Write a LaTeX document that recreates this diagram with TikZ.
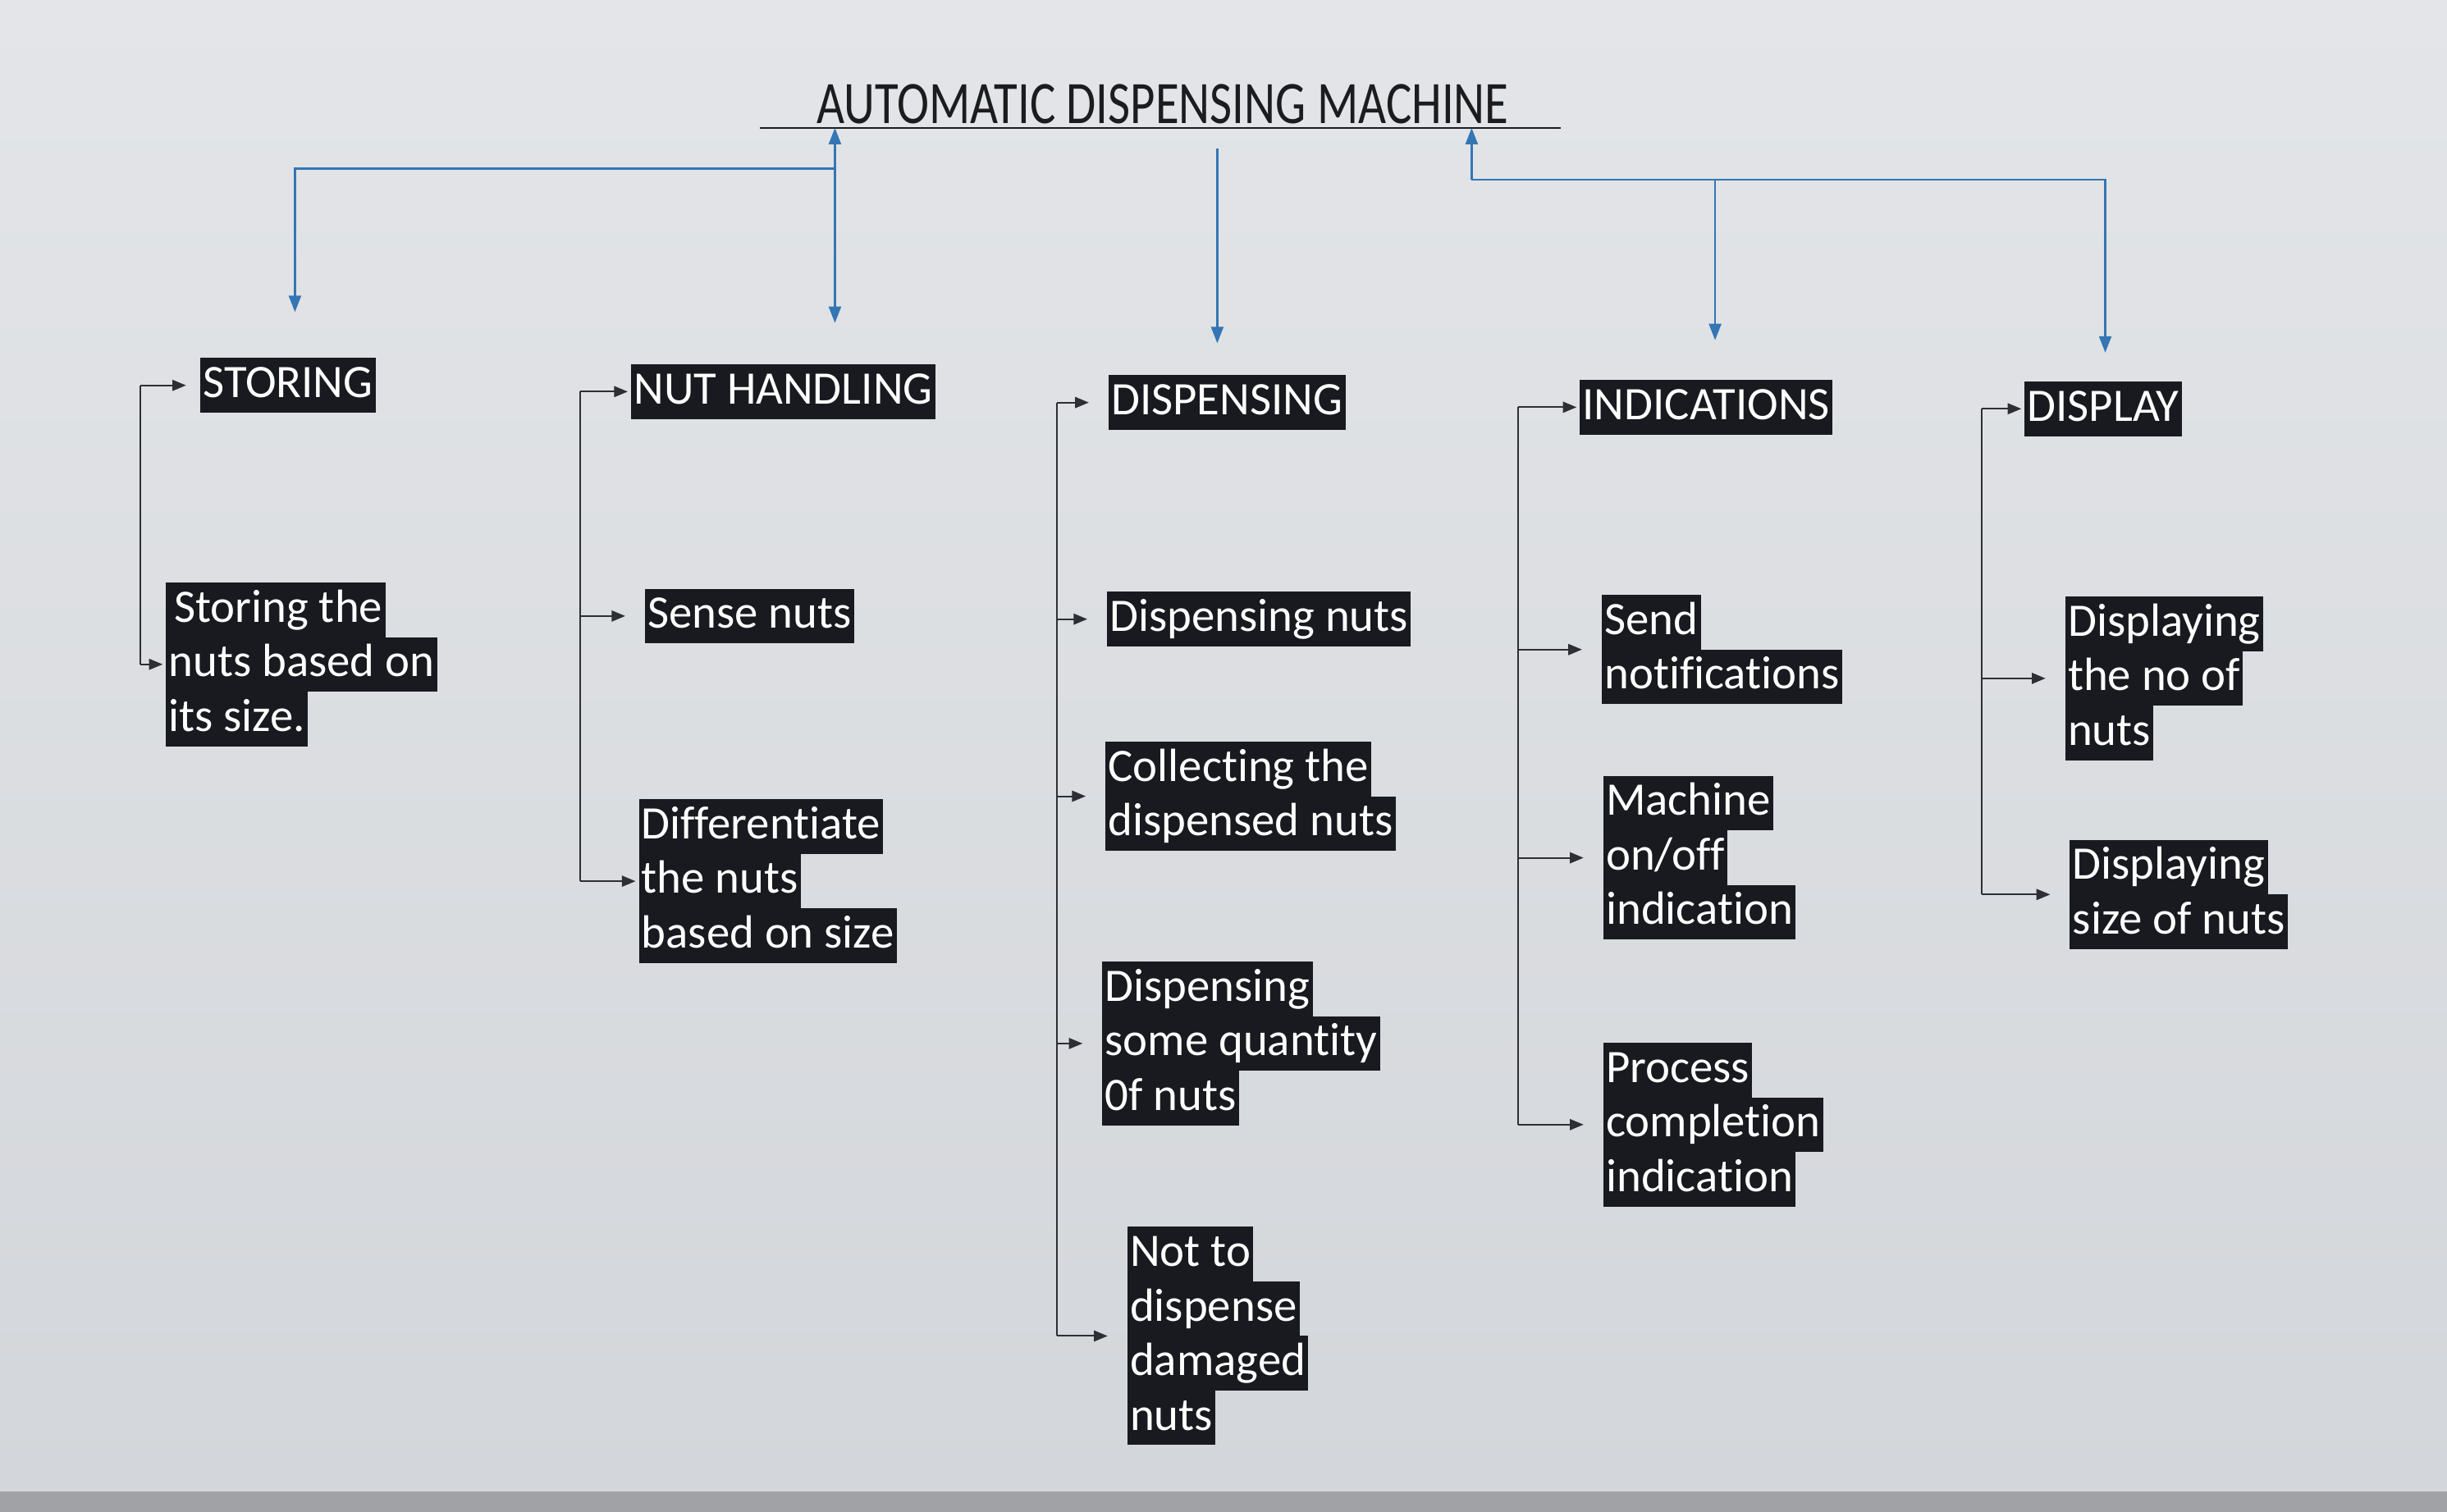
\documentclass[tikz,border=0pt]{standalone}
\usepackage{fontspec}
\usetikzlibrary{arrows.meta}
\newfontfamily\boxfont[Ligatures=NoCommon]{Carlito}
\newfontfamily\titlefont[FakeStretch=0.8]{Carlito}
\definecolor{bgTop}{RGB}{227,229,232}
\definecolor{bgBottom}{RGB}{211,214,218}
\definecolor{screenEdge}{RGB}{160,162,166}
\definecolor{boxBlack}{RGB}{24,26,31}
\definecolor{titleBlack}{RGB}{28,28,30}
\definecolor{lineBlue}{RGB}{52,118,180}
\definecolor{lineDark}{RGB}{45,47,52}
\setlength{\fboxsep}{1pt}
\newcommand{\hlbox}[1]{\colorbox{boxBlack}{\rule[-4.5pt]{0pt}{17.9pt}#1}}

\begin{document}
\begin{tikzpicture}[x=0.02cm, y=-0.02cm,
    head/.style={anchor=west, inner sep=0pt, text=white, font=\boxfont\fontsize{17}{20}\selectfont},
    leaf/.style={anchor=north west, inner sep=0pt, text=white, align=left,
      font=\boxfont\fontsize{17}{20}\selectfont\offinterlineskip},
    trunk/.style={lineDark, line width=0.6pt},
    branch/.style={trunk, -{Triangle[length=5pt,width=4pt]}, shorten >=1pt},
    leafbranch/.style={branch, shorten >=7pt},
    blueline/.style={lineBlue, line width=0.7pt},
    bluearrow/.style={blueline, -{Triangle[length=6pt,width=4.5pt]}}]
  \useasboundingbox (0,0) rectangle (1568,969);
  \shade[top color=bgTop, bottom color=bgBottom] (0,0) rectangle (1568,956);
  \fill[screenEdge] (0,956) rectangle (1568,969);

  % title
  \node[font=\titlefont\fontsize{22}{24}\selectfont, text=titleBlack] (title) at (745,67) {AUTOMATIC DISPENSING MACHINE};
  \coordinate (ulLeft) at (487,82);
  \coordinate (ulRight) at (1000,82);
  \draw[titleBlack, line width=0.6pt] (ulLeft) -- (ulRight);

  % main blocks
  \node[head] (storing) at (128,247) {\hlbox{STORING}};
  \node[head] (nuthandling) at (404,251) {\hlbox{NUT HANDLING}};
  \node[head] (dispensing) at (710,258) {\hlbox{DISPENSING}};
  \node[head] (indications) at (1012,261) {\hlbox{INDICATIONS}};
  \node[head] (display) at (1297,262) {\hlbox{DISPLAY}};

  % blue links to the title
  \coordinate (joinLeft) at (535,108);
  \coordinate (joinRight) at (943,115);
  \coordinate (tipStoring) at (189,200);
  \coordinate (tipNut) at (535,207);
  \coordinate (topDisp) at (780,95);
  \coordinate (tipDisp) at (780,220);
  \coordinate (tipInd) at (1099,218);
  \coordinate (tipShow) at (1349,226);
  \draw[bluearrow] (joinLeft) -- (joinLeft |- ulLeft);
  \draw[bluearrow] (joinLeft) -- (tipNut);
  \draw[bluearrow] (joinLeft) -| (tipStoring);
  \draw[bluearrow] (topDisp) -- (tipDisp);
  \draw[bluearrow] (joinRight) -- (joinRight |- ulRight);
  \draw[bluearrow] (joinRight) -| (tipShow);
  \draw[bluearrow] (tipInd |- joinRight) -- (tipInd);

  % storing
  \node[leaf] (store1) at (106,373) {\hlbox{\hspace{2pt}Storing the}\\\hlbox{nuts based on}\\\hlbox{its size.}};
  \coordinate (stLine) at (90,0);
  \draw[trunk] (storing.west -| stLine) -- (store1.west -| stLine);
  \draw[branch] (storing.west -| stLine) -- ([xshift=-4pt]storing.west);
  \draw[branch] (store1.west -| stLine) -- (store1.west);

  % nut handling
  \node[leaf] (nut1) at (413,377) {\hlbox{Sense nuts}};
  \node[leaf] (nut2) at (409,512) {\hlbox{Differentiate}\\\hlbox{the nuts}\\\hlbox{based on size}};
  \coordinate (nhLine) at (372,0);
  \draw[trunk] (nuthandling.west -| nhLine) -- (nut2.west -| nhLine);
  \draw[branch] (nuthandling.west -| nhLine) -- (nuthandling.west);
  \draw[leafbranch] (nut1.west -| nhLine) -- (nut1.west);
  \draw[branch] (nut2.west -| nhLine) -- (nut2.west);

  % dispensing
  \node[leaf] (disp1) at (709,379) {\hlbox{Dispensing nuts}};
  \node[leaf] (disp2) at (708,475) {\hlbox{Collecting the}\\\hlbox{dispensed nuts}};
  \node[leaf] (disp3) at (706,616) {\hlbox{Dispensing}\\\hlbox{some quantity}\\\hlbox{0f nuts}};
  \node[leaf] (disp4) at (722,786) {\hlbox{Not to}\\\hlbox{dispense}\\\hlbox{damaged}\\\hlbox{nuts}};
  \coordinate (dpLine) at (677,0);
  \draw[trunk] (dispensing.west -| dpLine) -- (disp4.west -| dpLine);
  \draw[leafbranch] (dispensing.west -| dpLine) -- (dispensing.west);
  \draw[leafbranch] (disp1.west -| dpLine) -- (disp1.west);
  \draw[leafbranch] (disp2.west -| dpLine) -- (disp2.west);
  \draw[leafbranch] (disp3.west -| dpLine) -- (disp3.west);
  \draw[leafbranch] (disp4.west -| dpLine) -- (disp4.west);

  % indications
  \node[leaf] (ind1) at (1026,381) {\hlbox{Send}\\\hlbox{notifications}};
  \node[leaf] (ind2) at (1027,497) {\hlbox{Machine}\\\hlbox{on/off}\\\hlbox{indication}};
  \node[leaf] (ind3) at (1027,668) {\hlbox{Process}\\\hlbox{completion}\\\hlbox{indication}};
  \coordinate (inLine) at (973,0);
  \draw[trunk] (indications.west -| inLine) -- (ind3.west -| inLine);
  \draw[branch] (indications.west -| inLine) -- (indications.west);
  \draw[leafbranch] (ind1.west -| inLine) -- (ind1.west);
  \draw[leafbranch] (ind2.west -| inLine) -- (ind2.west);
  \draw[leafbranch] (ind3.west -| inLine) -- (ind3.west);

  % display
  \node[leaf] (show1) at (1323,382) {\hlbox{Displaying}\\\hlbox{the no of}\\\hlbox{nuts}};
  \node[leaf] (show2) at (1326,538) {\hlbox{Displaying}\\\hlbox{size of nuts}};
  \coordinate (dsLine) at (1270,0);
  \draw[trunk] (display.west -| dsLine) -- (show2.west -| dsLine);
  \draw[branch] (display.west -| dsLine) -- (display.west);
  \draw[leafbranch] (show1.west -| dsLine) -- (show1.west);
  \draw[leafbranch] (show2.west -| dsLine) -- (show2.west);
\end{tikzpicture}
\end{document}
